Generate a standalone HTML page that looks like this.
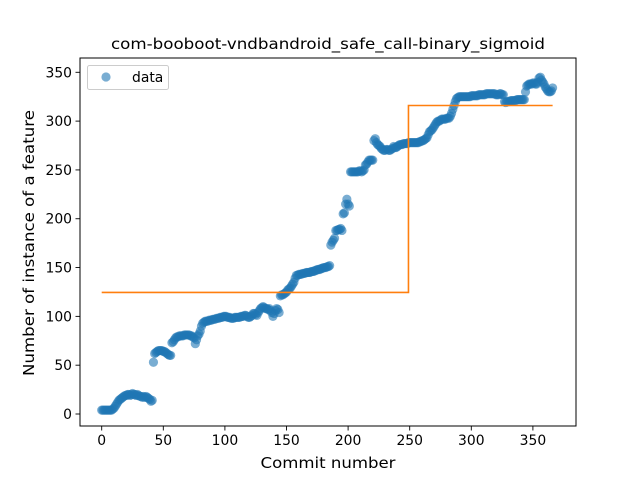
<!DOCTYPE html>
<html><head><meta charset="utf-8"><style>
html,body{margin:0;padding:0;background:#fff;}
svg{display:block;font-family:"DejaVu Sans","Liberation Sans",sans-serif;}
</style></head><body>
<svg id="chart" width="640" height="480" xmlns="http://www.w3.org/2000/svg">
<rect width="640" height="480" fill="#fff"/>
<g id="marks"></g>
<g id="axes"></g>
</svg>
<script>
const values = [
4,4,4,4,4,4,4,4,4,5,
6,8,10,12,14,15,16,17,18,19,
19,20,20,19,20,21,20,20,19,20,
19,18,18,17,18,17,18,17,16,15,
13,14,53,62,63,64,65,65,65,65,
64,64,63,62,61,60,60,73,74,76,
78,79,79,80,80,80,80,81,81,81,
81,81,80,80,79,78,72,76,80,82,
85,90,93,94,95,95,95,96,96,96,
97,97,97,98,98,98,99,99,99,100,
100,100,99,99,99,98,98,98,99,99,
99,99,99,100,100,100,101,101,100,99,
99,100,101,103,103,102,101,104,106,108,
109,110,109,108,108,107,108,106,104,100,
103,106,108,107,104,121,122,122,123,124,
125,127,128,129,131,133,135,139,142,142,
143,143,143,144,144,144,145,145,145,145,
146,146,146,147,147,148,148,148,149,149,
150,150,150,151,151,152,173,176,178,180,
188,188,189,189,190,188,205,206,215,220,
215,213,248,248,248,248,248,248,248,249,
249,248,249,250,255,256,258,260,260,260,
260,280,282,278,276,275,274,272,271,270,
270,271,271,270,270,271,272,274,273,273,
274,275,276,276,276,277,277,277,277,278,
278,278,278,278,278,278,278,278,279,279,
280,280,281,282,283,286,289,290,291,293,
295,297,299,300,300,301,302,302,302,302,
303,303,303,305,308,312,316,320,323,324,
325,325,325,325,325,325,325,325,325,325,
326,326,326,326,326,326,327,327,327,327,
327,327,328,328,328,328,328,328,328,328,
327,327,327,328,328,327,327,320,319,320,
320,320,321,321,321,321,321,322,322,322,
322,322,322,322,330,336,337,338,338,338,
339,339,338,338,340,344,345,342,340,338,
335,333,331,330,330,331,334
];
const stepX = [0, 249, 249, 366];
const stepY = [124.5, 124.5, 316, 316];
const xTicks = [0,50,100,150,200,250,300,350];
const yTicks = [0,50,100,150,200,250,300,350];

const X0=80, X1=576, Y0=58, Y1=426;
function xs(v){ return 101.7 + (v-0)*1.232; }
function ys(v){ return 414 - v*0.9763; }
const NS="http://www.w3.org/2000/svg";
function mk(tag, attrs, parent){ const e=document.createElementNS(NS,tag); for(const k in attrs) e.setAttribute(k, attrs[k]); parent.appendChild(e); return e; }
const marks=document.getElementById('marks'), axes=document.getElementById('axes');

values.forEach((v,i)=>{
  const c=mk('circle',{cx:xs(i),cy:ys(v),r:4.6,fill:'#1f77b4','fill-opacity':0.6},marks);
  
  
});
const pts=stepX.map((x,i)=>xs(x)+','+ys(stepY[i])).join(' ');
const sl=mk('polyline',{points:pts,fill:'none',stroke:'#ff7f0e','stroke-width':1.6},marks);



const frame=mk('rect',{x:X0,y:Y0,width:X1-X0,height:Y1-Y0,fill:'none',stroke:'#000','stroke-width':1},axes);



xTicks.forEach(t=>{
  const x=xs(t);
  mk('line',{x1:x,x2:x,y1:Y1,y2:Y1+4.5,stroke:'#000','stroke-width':0.9},axes);
  const tx=mk('text',{x:x,y:Y1+19,'font-size':13.9,'text-anchor':'middle',fill:'#000'},axes);
  tx.textContent=t;
  
  
});
yTicks.forEach(t=>{
  const y=ys(t);
  mk('line',{x1:X0-4.5,x2:X0,y1:y,y2:y,stroke:'#000','stroke-width':0.9},axes);
  const tx=mk('text',{x:X0-8,y:y+5,'font-size':13.9,'text-anchor':'end',fill:'#000'},axes);
  tx.textContent=t;
  
  
});
</script>
<svg style="position:absolute;left:0;top:0" width="640" height="480" xmlns="http://www.w3.org/2000/svg">
<text x="328" y="49" font-size="15.5" text-anchor="middle" textLength="434" lengthAdjust="spacingAndGlyphs" font-family="DejaVu Sans, Liberation Sans, sans-serif">com-booboot-vndbandroid_safe_call-binary_sigmoid</text>
<text x="328" y="468" font-size="15.5" text-anchor="middle" textLength="135" lengthAdjust="spacingAndGlyphs" font-family="DejaVu Sans, Liberation Sans, sans-serif">Commit number</text>
<text transform="translate(34,243) rotate(-90)" font-size="15.5" text-anchor="middle" textLength="266" lengthAdjust="spacingAndGlyphs" font-family="DejaVu Sans, Liberation Sans, sans-serif">Number of instance of a feature</text>
<g>
<rect x="87.5" y="65.5" width="81" height="24" rx="2" fill="#fff" fill-opacity="0.8" stroke="#ccc" stroke-width="1"/>
<circle cx="106" cy="77" r="4.6" fill="#1f77b4" fill-opacity="0.6"/>
<text x="132" y="82" font-size="13.9" font-family="DejaVu Sans, Liberation Sans, sans-serif">data</text>
</g>
</svg>
</body></html>
